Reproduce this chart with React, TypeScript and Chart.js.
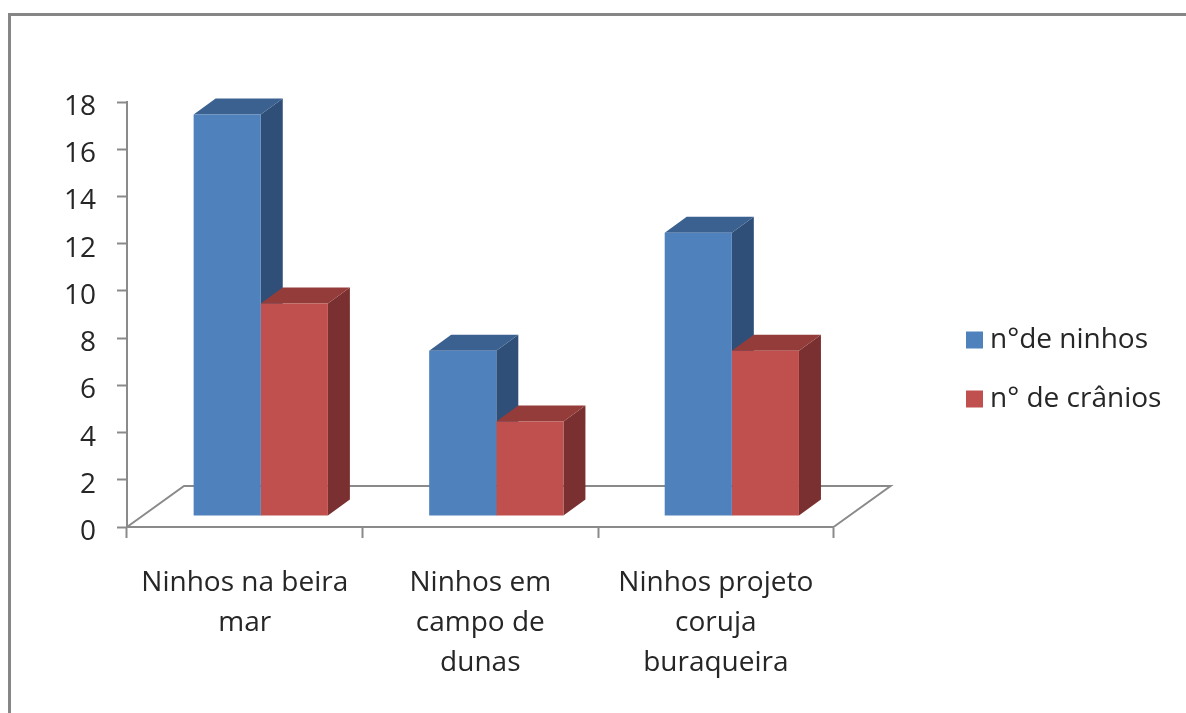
import React, { useEffect, useRef } from "react";
import { Chart, registerables } from "chart.js";

Chart.register(...registerables);

const categories = [
  ["Ninhos na beira", "mar"],
  ["Ninhos em", "campo de", "dunas"],
  ["Ninhos projeto", "coruja", "buraqueira"],
];
const nests = [17, 7, 12];
const skulls = [9, 4, 7];
const seriesNames = ["n°de ninhos", "n° de crânios"];
const FONT = "'Open Sans'";
const AXIS = "#8a8a8a";
const TEXT = "#262626";
const frontColors = ["#4F81BD", "#C0504D"];
const topColors = ["#3B6190", "#943C3A"];
const sideColors = ["#2F4F78", "#7A3030"];

const SHIFT = { x: 16, y: -11 };
const DEPTH = { x: 22, y: -16 };
const FLOOR = { x: 57, y: -41 };
const LEGEND_TARGET = { left: 942, dy: -38 };
const Y_LABEL_DROP = 5;

const scene = {
  id: "scene",
  beforeDraw(chart: any) {
    const { ctx } = chart;
    ctx.save();
    ctx.strokeStyle = "#868686";
    ctx.lineWidth = 3;
    ctx.beginPath();
    ctx.moveTo(9.5, 713);
    ctx.lineTo(9.5, 14.5);
    ctx.lineTo(1186, 14.5);
    ctx.stroke();
    ctx.restore();
  },
  afterLayout(chart: any) {
    const l = chart.legend;
    const w = l.right - l.left;
    l.left = LEGEND_TARGET.left;
    l.right = l.left + w;
    l.top += LEGEND_TARGET.dy;
    l.bottom += LEGEND_TARGET.dy;
  },
  beforeDatasetsDraw(chart: any) {
    const { ctx, chartArea: a } = chart;
    ctx.save();
    ctx.strokeStyle = AXIS;
    ctx.lineWidth = 2;
    ctx.beginPath();
    ctx.moveTo(a.left, a.bottom);
    ctx.lineTo(a.left + FLOOR.x, a.bottom + FLOOR.y);
    ctx.lineTo(a.right + FLOOR.x, a.bottom + FLOOR.y);
    ctx.lineTo(a.right, a.bottom);
    ctx.stroke();
    ctx.translate(SHIFT.x, SHIFT.y);
    const n = chart.data.labels.length;
    for (let j = 0; j < n; j++) {
      chart.data.datasets.forEach((_: any, i: number) => {
        const b = chart.getDatasetMeta(i).data[j];
        const l = b.x - b.width / 2;
        const r = b.x + b.width / 2;
        ctx.fillStyle = sideColors[i];
        ctx.beginPath();
        ctx.moveTo(r, b.y);
        ctx.lineTo(r + DEPTH.x, b.y + DEPTH.y);
        ctx.lineTo(r + DEPTH.x, b.base + DEPTH.y);
        ctx.lineTo(r, b.base);
        ctx.closePath();
        ctx.fill();
        ctx.fillStyle = topColors[i];
        ctx.beginPath();
        ctx.moveTo(l, b.y);
        ctx.lineTo(l + DEPTH.x, b.y + DEPTH.y);
        ctx.lineTo(r + DEPTH.x, b.y + DEPTH.y);
        ctx.lineTo(r, b.y);
        ctx.closePath();
        ctx.fill();
      });
    }
  },
  afterDatasetsDraw(chart: any) {
    chart.ctx.restore();
  },
};

export default function App() {
  const ref = useRef<HTMLCanvasElement>(null);
  useEffect(() => {
    const chart = new Chart(ref.current!, {
      type: "bar",
      data: {
        labels: categories as any,
        datasets: [
          { label: seriesNames[0], data: nests, backgroundColor: frontColors[0] },
          { label: seriesNames[1], data: skulls, backgroundColor: frontColors[1] },
        ],
      },
      plugins: [scene],
      options: {
        animation: false,
        responsive: false,
        devicePixelRatio: 1,
        datasets: { bar: { categoryPercentage: 0.57, barPercentage: 1 } },
        layout: { padding: { left: 0, top: 102, bottom: 0, right: 123 } },
        plugins: {
          tooltip: { enabled: false },
          legend: {
            position: "right",
            labels: {
              usePointStyle: true,
              pointStyle: "rect",
              boxWidth: 3,
              boxHeight: 17,
              padding: 31,
              color: TEXT,
              font: { family: FONT, size: 28 },
            },
          },
        },
        scales: {
          x: {
            afterFit(s: any) {
              s.height = 186;
            },
            border: { color: AXIS, width: 2 },
            grid: { drawOnChartArea: false, tickLength: 11, tickColor: AXIS, tickWidth: 2 },
            ticks: {
              color: TEXT,
              maxRotation: 0,
              minRotation: 0,
              autoSkip: false,
              padding: 25,
              font: { family: FONT, size: 28, lineHeight: 1.43 },
            },
          },
          y: {
            min: 0,
            max: 18,
            afterFit(s: any) {
              s.width = 127;
              if (!s.__dropped) {
                s.__dropped = true;
                const compute = s._computeLabelItems;
                s._computeLabelItems = function (area: any) {
                  const items = compute.call(s, area);
                  items.forEach((it: any) => {
                    it.textOffset += Y_LABEL_DROP;
                  });
                  return items;
                };
              }
            },
            border: { color: AXIS, width: 2 },
            grid: { drawOnChartArea: false, tickLength: 10, tickColor: AXIS, tickWidth: 2 },
            ticks: {
              stepSize: 2,
              color: TEXT,
              padding: 21,
              font: { family: FONT, size: 28 },
            },
          },
        },
      } as any,
    });
    return () => chart.destroy();
  }, []);
  return (
    <canvas
      ref={ref}
      width={1186}
      height={713}
      style={{ position: "absolute", left: 0, top: 0, display: "block", filter: "blur(0.5px)" }}
    />
  );
}
